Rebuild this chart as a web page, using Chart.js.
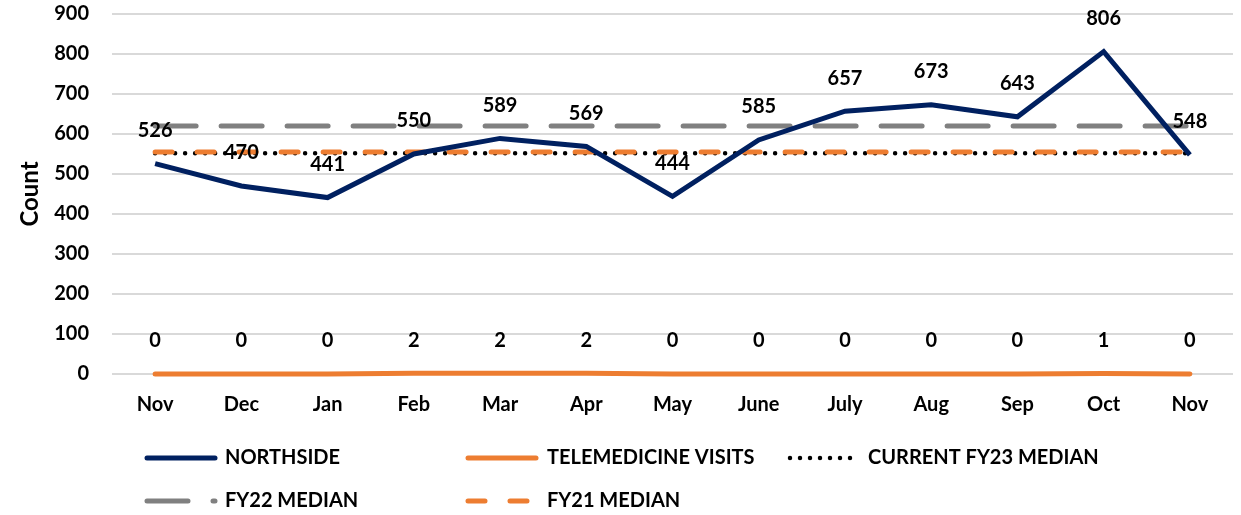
<!DOCTYPE html>
<html>
<head>
<meta charset="utf-8">
<script src="https://cdn.jsdelivr.net/npm/chart.js@4.4.1/dist/chart.umd.min.js"></script>
<style>
  html, body { margin: 0; padding: 0; background: #ffffff; }
  #wrap { width: 1241px; height: 515px; position: relative; }
</style>
</head>
<body>
<div id="wrap"><canvas id="chart"></canvas></div>
<script>
// Monthly counts, Nov through the following Nov
const months = ['Nov', 'Dec', 'Jan', 'Feb', 'Mar', 'Apr', 'May', 'June', 'July', 'Aug', 'Sep', 'Oct', 'Nov'];
const northside = [526, 470, 441, 550, 589, 569, 444, 585, 657, 673, 643, 806, 548];
const telemedicineVisits = [0, 0, 0, 2, 2, 2, 0, 0, 0, 0, 0, 1, 0];
const currentFy23Median = 552;
const fy22Median = 620;
const fy21Median = 555;
const yAxisMin = 0;
const yAxisMax = 900;
const yAxisStep = 100;

const FONT = 'Lato, "Open Sans", sans-serif';
const NAVY = '#002060';
const ORANGE = '#ED7D31';
const GREY = '#808080';

const flat = v => months.map(() => v);

// Value labels above the Northside and telemedicine points
const valueLabels = {
  id: 'valueLabels',
  afterDatasetsDraw(chart) {
    const ctx = chart.ctx;
    ctx.save();
    ctx.font = 'bold 20px ' + FONT;
    ctx.fillStyle = '#000000';
    ctx.textAlign = 'center';
    ctx.textBaseline = 'middle';
    [0, 1].forEach(di => {
      const meta = chart.getDatasetMeta(di);
      const data = chart.data.datasets[di].data;
      meta.data.forEach((pt, i) => {
        ctx.fillText(String(data[i]), pt.x, pt.y - 33);
      });
    });
    ctx.restore();
  }
};

// Legend drawn under the axis with line samples in each series' style
const lineLegend = {
  id: 'lineLegend',
  afterDraw(chart) {
    const ctx = chart.ctx;
    const rows = [
      { y: 458, items: [[0, 147], [1, 468], [2, 790]] },
      { y: 501, items: [[3, 147], [4, 468]] }
    ];
    const sampleLen = { 0: 68, 1: 68, 2: 63, 3: 68, 4: 68 };
    const textGap = { 0: 10, 1: 11, 2: 15, 3: 10, 4: 11 };
    ctx.save();
    rows.forEach(row => {
      row.items.forEach(([di, x]) => {
        const ds = chart.data.datasets[di];
        ctx.beginPath();
        ctx.strokeStyle = ds.borderColor;
        ctx.lineWidth = ds.borderWidth;
        ctx.lineCap = 'round';
        ctx.setLineDash(ds.borderDash || []);
        ctx.moveTo(x, row.y);
        ctx.lineTo(x + sampleLen[di], row.y);
        ctx.stroke();
        ctx.setLineDash([]);
        ctx.font = 'bold 20px ' + FONT;
        ctx.fillStyle = '#000000';
        ctx.textAlign = 'left';
        ctx.textBaseline = 'middle';
        ctx.fillText(ds.label, x + sampleLen[di] + textGap[di], row.y);
      });
    });
    ctx.restore();
  }
};

new Chart(document.getElementById('chart'), {
  type: 'line',
  data: {
    labels: months,
    datasets: [
      {
        label: 'NORTHSIDE',
        data: northside,
        borderColor: NAVY,
        backgroundColor: NAVY,
        borderWidth: 5,
        pointRadius: 0,
        tension: 0,
        clip: false,
        order: 1
      },
      {
        label: 'TELEMEDICINE VISITS',
        data: telemedicineVisits,
        borderColor: ORANGE,
        backgroundColor: ORANGE,
        borderWidth: 5,
        borderCapStyle: 'round',
        pointRadius: 0,
        clip: false,
        order: 2
      },
      {
        label: 'CURRENT FY23 MEDIAN',
        data: flat(currentFy23Median),
        borderColor: '#000000',
        backgroundColor: '#000000',
        borderWidth: 4.5,
        borderDash: [0, 10],
        borderCapStyle: 'round',
        pointRadius: 0,
        clip: false,
        order: 4
      },
      {
        label: 'FY22 MEDIAN',
        data: flat(fy22Median),
        borderColor: GREY,
        backgroundColor: GREY,
        borderWidth: 5,
        borderDash: [41, 25],
        borderCapStyle: 'round',
        pointRadius: 0,
        clip: false,
        order: 5
      },
      {
        label: 'FY21 MEDIAN',
        data: flat(fy21Median),
        borderColor: ORANGE,
        backgroundColor: ORANGE,
        borderWidth: 5,
        borderDash: [17, 25],
        borderCapStyle: 'round',
        pointRadius: 0,
        clip: false,
        order: 3
      }
    ]
  },
  options: {
    responsive: true,
    maintainAspectRatio: false,
    animation: false,
    devicePixelRatio: 1,
    layout: { padding: { top: 14, right: 8, bottom: 0, left: 0 } },
    plugins: {
      legend: { display: false },
      tooltip: { enabled: false },
      title: { display: false }
    },
    scales: {
      x: {
        offset: true,
        grid: { display: false, drawTicks: false },
        border: { display: false },
        ticks: {
          color: '#000000',
          font: { family: FONT, size: 20, weight: 'bold' },
          padding: 19,
          maxRotation: 0,
          autoSkip: false
        },
        afterFit(scale) {
          scale.height = 141;
          scale.paddingLeft = 0;
          scale.paddingRight = 0;
        }
      },
      y: {
        min: yAxisMin,
        max: yAxisMax,
        grid: { color: '#d9d9d9', lineWidth: 2, drawTicks: false },
        border: { display: false },
        ticks: {
          stepSize: yAxisStep,
          color: '#000000',
          font: { family: FONT, size: 20, weight: 'bold' },
          padding: 23
        },
        title: {
          display: true,
          text: 'Count',
          color: '#000000',
          font: { family: FONT, size: 24, weight: 'bold' },
          padding: { top: 16, bottom: 0 }
        },
        afterFit(scale) {
          scale.width = 112;
          scale.paddingTop = 0;
          scale.paddingBottom = 0;
        }
      }
    }
  },
  plugins: [valueLabels, lineLegend]
});
</script>
</body>
</html>
